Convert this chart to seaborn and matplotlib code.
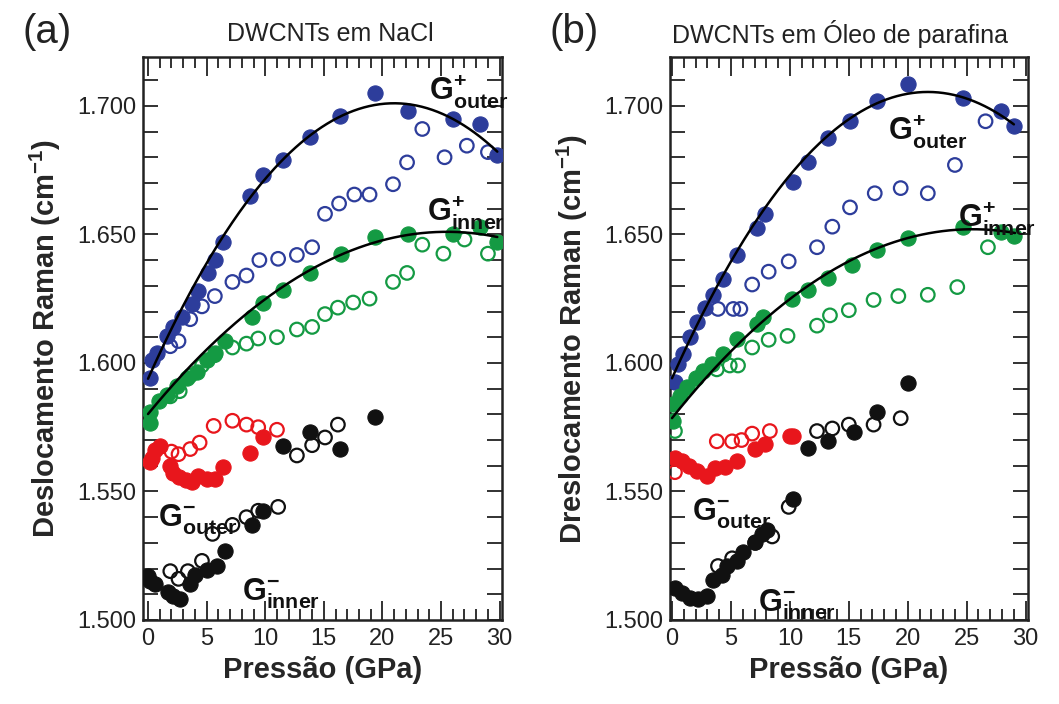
import numpy as np
import pandas as pd
import matplotlib
matplotlib.use("Agg")
import matplotlib.pyplot as plt
from matplotlib.ticker import MultipleLocator, FuncFormatter
import seaborn as sns

# ---- Panel (a): DWCNTs em NaCl ----
a_out_fill_x = [0.2, 0.3, 0.8, 1.6, 2.1, 2.9, 3.75, 4.3, 5.1, 5.7, 6.4, 8.7, 9.8, 11.5, 13.8, 16.4, 19.35, 22.2, 26.0, 28.3, 29.8]
a_out_fill_y = [1594, 1601, 1604, 1610.5, 1614, 1618, 1623, 1628, 1635, 1640, 1647, 1665, 1673, 1679, 1688, 1696, 1705, 1698, 1695, 1693, 1681]
a_out_open_x = [1.9, 2.6, 3.6, 4.6, 5.7, 7.2, 8.4, 9.5, 11.1, 12.7, 14.0, 15.1, 16.3, 17.6, 18.9, 20.9, 22.1, 23.4, 25.3, 27.2, 29.0]
a_out_open_y = [1606.5, 1608.5, 1617, 1622, 1626, 1631.5, 1634, 1640, 1640.5, 1642, 1645, 1658, 1662, 1665.5, 1665.5, 1669.5, 1678, 1691, 1680, 1684.5, 1682]
a_in_fill_x = [0.2, 0.2, 0.9, 1.6, 2.5, 3.3, 4.2, 5.0, 5.7, 6.6, 8.9, 9.8, 11.5, 13.8, 16.5, 19.35, 22.2, 26.0, 28.3, 29.8]
a_in_fill_y = [1576.5, 1581, 1585, 1587.5, 1591, 1594, 1596.5, 1601, 1604, 1608.5, 1618, 1623.5, 1628.5, 1635, 1642.5, 1649, 1650, 1650, 1653, 1647]
a_in_open_x = [1.9, 2.7, 3.6, 4.6, 5.7, 7.2, 8.4, 9.4, 11.0, 12.7, 14.0, 15.1, 16.2, 17.5, 18.9, 20.9, 22.1, 23.4, 25.2, 27.0, 29.0]
a_in_open_y = [1587, 1589, 1595, 1599, 1603, 1606, 1607.5, 1609.5, 1610, 1613, 1614, 1619, 1621.5, 1623.5, 1625, 1631.5, 1635, 1646, 1642.5, 1648, 1642.5]
a_red_fill_x = [0.2, 0.3, 0.6, 1.0, 1.9, 2.1, 2.6, 3.2, 3.75, 4.3, 5.0, 5.7, 6.4, 8.7, 9.8]
a_red_fill_y = [1561.5, 1563, 1566, 1567.5, 1560, 1557, 1555.5, 1554.5, 1553.5, 1556, 1555, 1555, 1559.5, 1565, 1571]
a_red_open_x = [2.0, 2.6, 3.6, 4.4, 5.6, 7.2, 8.4, 9.4, 11.0]
a_red_open_y = [1565.5, 1564.5, 1566.5, 1569, 1575.5, 1577.5, 1576, 1575, 1574]
a_blk_fill_x = [0.0, 0.2, 0.6, 1.7, 2.1, 2.7, 3.6, 4.0, 5.0, 5.9, 6.6, 8.9, 9.8, 11.5, 13.8, 16.4, 19.35]
a_blk_fill_y = [1517, 1515, 1514, 1511, 1509.5, 1508, 1514, 1517.5, 1519.5, 1521, 1527, 1537, 1542.5, 1567.5, 1573, 1566.5, 1579]
a_blk_open_x = [1.9, 2.6, 3.4, 4.6, 5.5, 7.2, 8.4, 9.4, 11.1, 12.7, 14.0, 15.1, 16.2]
a_blk_open_y = [1519, 1516, 1519, 1523, 1533.5, 1537, 1540, 1542.5, 1544, 1564, 1568, 1571, 1576]
# quadratic fits: (vertex x, vertex y, curvature, x end)
a_fit_outer = [21.0, 1701.0, 0.243, 29.8]
a_fit_inner = [25.5, 1651.0, 0.109, 29.8]

# ---- Panel (b): DWCNTs em Óleo de parafina ----
b_out_fill_x = [0.25, 0.5, 0.9, 1.5, 2.1, 2.8, 3.5, 4.3, 5.5, 7.2, 7.9, 10.3, 11.5, 13.25, 15.1, 17.4, 20.05, 24.7, 27.9, 29.0]
b_out_fill_y = [1592.5, 1599.5, 1603.5, 1610, 1616, 1621.5, 1626.5, 1632.5, 1642, 1652.5, 1658, 1670.5, 1678, 1687.5, 1694, 1702, 1708.5, 1703, 1698, 1692]
b_out_open_x = [3.9, 5.2, 5.8, 6.8, 8.2, 9.9, 12.3, 13.6, 15.1, 17.2, 19.4, 21.7, 24.0, 26.6]
b_out_open_y = [1621, 1621, 1621, 1630.5, 1635.5, 1639.5, 1645, 1653, 1660.5, 1666, 1668, 1666, 1677, 1694]
b_in_fill_x = [0.1, 0.1, 0.7, 1.3, 2.0, 2.6, 3.4, 4.3, 5.5, 7.2, 7.7, 10.2, 11.5, 13.25, 15.3, 17.4, 20.05, 24.7, 27.9, 29.0]
b_in_fill_y = [1577.5, 1584, 1587, 1590.5, 1594, 1597, 1599.5, 1603.5, 1609.5, 1615, 1618, 1625, 1628.5, 1633, 1638, 1644, 1648.5, 1653, 1651, 1649.5]
b_in_open_x = [0.25, 3.8, 4.9, 5.6, 6.8, 8.2, 9.8, 12.3, 13.4, 15.0, 17.1, 19.2, 21.7, 24.2, 26.8]
b_in_open_y = [1573.5, 1597.5, 1599, 1599, 1606, 1609, 1610.5, 1614.5, 1618.5, 1620.5, 1624.5, 1626, 1626.5, 1629.5, 1645]
b_red_fill_x = [0.25, 0.85, 1.4, 2.1, 3.0, 3.65, 4.5, 5.5, 7.05, 7.9, 10.0, 10.3]
b_red_fill_y = [1563, 1562, 1560, 1558, 1556, 1559, 1559.5, 1562, 1566.5, 1568.5, 1571.5, 1571.5]
b_red_open_x = [0.25, 3.8, 5.1, 5.9, 6.8, 8.3]
b_red_open_y = [1557.5, 1569.5, 1569.5, 1570, 1572.5, 1573.5]
b_blk_fill_x = [0.25, 0.85, 1.5, 2.2, 3.0, 3.5, 4.2, 4.7, 5.5, 6.0, 7.05, 7.6, 8.1, 10.3, 11.5, 13.25, 15.4, 17.4, 20.05]
b_blk_fill_y = [1512.5, 1510.5, 1508.5, 1508, 1509.5, 1515.5, 1517.5, 1521, 1523, 1526.5, 1530.5, 1533.5, 1535, 1547, 1567, 1569.5, 1573, 1581, 1592]
b_blk_open_x = [3.9, 5.1, 7.05, 8.5, 9.9, 12.3, 13.6, 15.0, 17.1, 19.4]
b_blk_open_y = [1521, 1524, 1530, 1532.5, 1544, 1573.5, 1574.5, 1576, 1576, 1578.5]
b_fit_outer = [21.7, 1705.4, 0.2365, 29.0]
b_fit_inner = [25.5, 1652.0, 0.113, 29.1]

BLUE = "#2d3d9b"
GREEN = "#149a43"
RED = "#e8161c"
BLACK = "#111111"

sns.set_theme(style="ticks")
plt.rcParams["font.family"] = ["Liberation Sans", "DejaVu Sans"]
plt.rcParams["mathtext.fontset"] = "custom"
plt.rcParams["mathtext.rm"] = "Liberation Sans"
plt.rcParams["mathtext.bf"] = "Liberation Sans:bold"
plt.rcParams["mathtext.it"] = "Liberation Sans:bold"
plt.rcParams["mathtext.default"] = "bf"

fig = plt.figure(figsize=(10.59, 7.04), dpi=100)
ax_a = fig.add_axes([143 / 1059, 1 - 620 / 704, (502 - 143) / 1059, (620 - 57) / 704])
ax_b = fig.add_axes([670 / 1059, 1 - 620 / 704, (1028 - 670) / 1059, (620 - 57) / 704])


def scatter_series(ax, xs, ys, color, filled):
    df = pd.DataFrame({"P": xs, "W": ys})
    if filled:
        sns.scatterplot(data=df, x="P", y="W", ax=ax, s=120, color=color,
                        edgecolor=color, linewidth=0.8, zorder=3)
    else:
        sns.scatterplot(data=df, x="P", y="W", ax=ax, s=95, color=color,
                        facecolor="none", edgecolor=color, linewidth=1.6, zorder=3)


def fit_line(ax, params):
    x0, y0, k, xend = params
    xs = np.linspace(0, xend, 200)
    ax.plot(xs, y0 - k * (xs - x0) ** 2, color="black", lw=1.8, zorder=4)


def style_axes(ax, xmin):
    ax.set_xlim(xmin, 30.2)
    ax.set_ylim(1500, 1719)
    ax.xaxis.set_major_locator(MultipleLocator(5))
    ax.xaxis.set_minor_locator(MultipleLocator(1))
    ax.yaxis.set_major_locator(MultipleLocator(50))
    ax.yaxis.set_minor_locator(MultipleLocator(10))
    ax.yaxis.set_major_formatter(FuncFormatter(lambda v, p: f"{v / 1000:.3f}"))
    ax.tick_params(axis="both", which="both", direction="in", top=True, right=True,
                   labelsize=17, width=1.3, colors="#222222")
    ax.tick_params(axis="x", which="major", length=14, pad=6)
    ax.tick_params(axis="x", which="minor", length=8)
    ax.tick_params(axis="y", which="both", length=11, pad=5)
    for sp in ax.spines.values():
        sp.set_linewidth(1.8)
        sp.set_color("#222222")
    ax.set_xlabel("Pressão (GPa)", fontsize=21, fontweight="bold", labelpad=4)


panels = [
    (ax_a, [(a_out_fill_x, a_out_fill_y, BLUE, True), (a_out_open_x, a_out_open_y, BLUE, False),
            (a_in_fill_x, a_in_fill_y, GREEN, True), (a_in_open_x, a_in_open_y, GREEN, False),
            (a_red_fill_x, a_red_fill_y, RED, True), (a_red_open_x, a_red_open_y, RED, False),
            (a_blk_fill_x, a_blk_fill_y, BLACK, True), (a_blk_open_x, a_blk_open_y, BLACK, False)],
     [a_fit_outer, a_fit_inner]),
    (ax_b, [(b_out_fill_x, b_out_fill_y, BLUE, True), (b_out_open_x, b_out_open_y, BLUE, False),
            (b_in_fill_x, b_in_fill_y, GREEN, True), (b_in_open_x, b_in_open_y, GREEN, False),
            (b_red_fill_x, b_red_fill_y, RED, True), (b_red_open_x, b_red_open_y, RED, False),
            (b_blk_fill_x, b_blk_fill_y, BLACK, True), (b_blk_open_x, b_blk_open_y, BLACK, False)],
     [b_fit_outer, b_fit_inner]),
]

for ax, series, fits in panels:
    for xs, ys, c, filled in series:
        scatter_series(ax, xs, ys, c, filled)
    for f in fits:
        fit_line(ax, f)

style_axes(ax_a, -0.43)
style_axes(ax_b, -0.17)

ax_a.set_ylabel(r"Deslocamento Raman (cm$^{-1}$)", fontsize=21, fontweight="bold", labelpad=10)
ax_b.set_ylabel(r"Dreslocamento Raman (cm$^{-1}$)", fontsize=21, fontweight="bold", labelpad=10)

# band labels
lab_kw = dict(fontsize=22, fontweight="bold", ha="left", va="baseline", clip_on=False,
              zorder=5, color="#111111")
ax_a.text(24.0, 1702.3, r"G$^{+}_{outer}$", **lab_kw)
ax_a.text(23.8, 1655.4, r"G$^{+}_{inner}$", **lab_kw)
ax_a.text(0.85, 1536.4, r"G$^{-}_{outer}$", **lab_kw)
ax_a.text(8.0, 1507.4, r"G$^{-}_{inner}$", **lab_kw)
ax_b.text(18.35, 1686.8, r"G$^{+}_{outer}$", **lab_kw)
ax_b.text(24.3, 1653.0, r"G$^{+}_{inner}$", **lab_kw)
ax_b.text(1.7, 1538.8, r"G$^{-}_{outer}$", **lab_kw)
ax_b.text(7.3, 1503.5, r"G$^{-}_{inner}$", **lab_kw)

# panel titles and letters
fig.text(330 / 1059, 1 - 34 / 704, "DWCNTs em NaCl", fontsize=18, ha="center", va="center", color="#222222")
fig.text(840 / 1059, 1 - 34 / 704, "DWCNTs em Óleo de parafina", fontsize=18, ha="center", va="center", color="#222222")
fig.text(47 / 1059, 1 - 32 / 704, "(a)", fontsize=29, ha="center", va="center", color="#222222")
fig.text(574 / 1059, 1 - 32 / 704, "(b)", fontsize=29, ha="center", va="center", color="#222222")

fig.savefig("out.png", dpi=100)
